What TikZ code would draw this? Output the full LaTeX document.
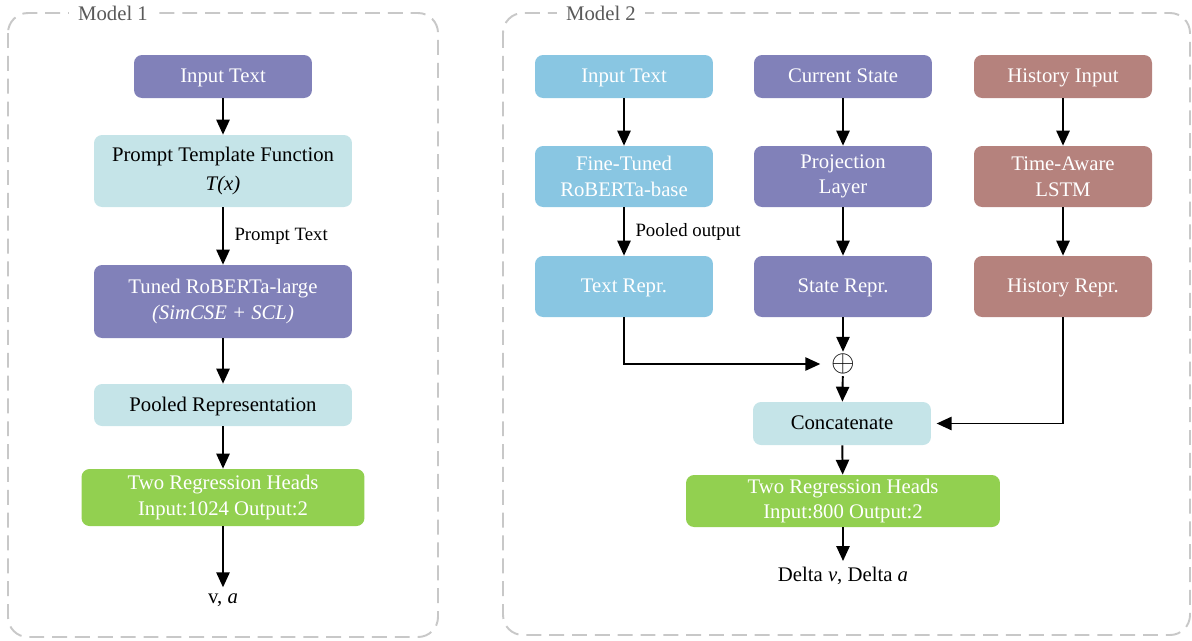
\documentclass[tikz,border=0pt]{standalone}
\usepackage{fontspec}
\setmainfont{Liberation Serif}
\usetikzlibrary{positioning, arrows.meta, calc}

\definecolor{boxpurple}{RGB}{129,129,185}
\definecolor{boxcyan}{RGB}{197,228,232}
\definecolor{boxblue}{RGB}{137,198,226}
\definecolor{boxbrown}{RGB}{181,130,125}
\definecolor{boxgreen}{RGB}{146,208,80}
\definecolor{framegray}{RGB}{200,200,200}
\definecolor{labelgray}{RGB}{90,90,90}

\begin{document}
\begin{tikzpicture}[
        x=0.02cm, y=-0.02cm,
        font=\fontsize{11.8}{14.5}\selectfont,
        flow/.style={-{Triangle[length=8.5pt, width=7.5pt]}, line width=1.1pt},
        frame/.style={draw=framegray, line width=1.1pt, dash pattern=on 8.5pt off 4.5pt, rounded corners=0.4cm},
        frame_label/.style={fill=white, text=labelgray, inner xsep=5pt, inner ysep=1pt},
        box/.style={rounded corners=0.16cm, align=center, inner sep=2pt, minimum width=3.56cm},
        one_line/.style={text height=1.9ex, text depth=0.3ex},
        purple_box/.style={box, fill=boxpurple, text=white},
        cyan_box/.style={box, fill=boxcyan, text=black},
        blue_box/.style={box, fill=boxblue, text=white},
        brown_box/.style={box, fill=boxbrown, text=white},
        green_box/.style={box, fill=boxgreen, text=white},
        edge_label/.style={font=\fontsize{10.7}{13}\selectfont, right, inner sep=6pt}
    ]
    \useasboundingbox (0,0) rectangle (1192,640);

    % ========================================================
    % 1. MODEL 1 (KIRI)
    % ========================================================
    \draw[frame] (8,13) rectangle (438,637);
    \node[frame_label] (lab1) at (113,13) {Model 1};

    \node[purple_box, one_line, minimum height=0.86cm] (in1) at (223,76.5) {Input Text};
    \node[cyan_box, minimum width=5.16cm, minimum height=1.44cm] (tmpl) at (223,171) {Prompt Template Function\\[1.5pt] \textit{T(x)}};
    \node[purple_box, minimum width=5.16cm, minimum height=1.46cm] (rob) at (223,301.5) {Tuned RoBERTa-large\\ \textit{(SimCSE + SCL)}};
    \node[cyan_box, one_line, minimum width=5.16cm, minimum height=0.84cm] (pool) at (223,405) {Pooled Representation};
    \node[green_box, minimum width=5.66cm, minimum height=1.14cm] (head1) at (223,497.5) {Two Regression Heads\\ Input:1024 Output:2};
    \node (out1) at (223,600) {v, \textit{a}};

    \draw[flow] (in1) -- (tmpl);
    \draw[flow] (tmpl) -- node[edge_label] {Prompt Text} (rob);
    \draw[flow] (rob) -- (pool);
    \draw[flow] (pool) -- (head1);
    \draw[flow] (head1) -- (out1);

    % ========================================================
    % 2. MODEL 2 (KANAN)
    % ========================================================
    \draw[frame] (503,13) rectangle (1190,635);
    \node[frame_label] (lab2) at (601,13) {Model 2};

    % -- A. Teks --
    \node[blue_box, one_line, minimum height=0.86cm] (txt) at (624,76.5) {Input Text};
    \node[blue_box, minimum height=1.22cm] (ft) at (624,176.5) {Fine-Tuned\\ RoBERTa-base};
    \node[blue_box, one_line, minimum height=1.22cm] (trep) at (624,286.5) {Text Repr.};

    % -- B. State --
    \node[purple_box, one_line, minimum height=0.86cm] (cur) at (843,76.5) {Current State};
    \node[purple_box, minimum height=1.22cm] (proj) at (843,176.5) {Projection\\ Layer};
    \node[purple_box, one_line, minimum height=1.22cm] (srep) at (843,286.5) {State Repr.};

    % -- C. History --
    \node[brown_box, one_line, minimum height=0.86cm] (hin) at (1063,76.5) {History Input};
    \node[brown_box, minimum height=1.22cm] (lstm) at (1063,176.5) {Time-Aware\\ LSTM};
    \node[brown_box, one_line, minimum height=1.22cm] (hrep) at (1063,286.5) {History Repr.};

    \draw[flow] (txt) -- (ft);
    \draw[flow] (ft) -- node[edge_label] {Pooled output} (trep);
    \draw[flow] (cur) -- (proj);
    \draw[flow] (proj) -- (srep);
    \draw[flow] (hin) -- (lstm);
    \draw[flow] (lstm) -- (hrep);

    % Penggabungan
    \node[inner sep=1pt, font=\fontsize{18}{18}\selectfont] (plus) at (843,364) {$\oplus$};
    \node[cyan_box, one_line, minimum height=0.86cm] (cat) at (842,423.5) {Concatenate};
    \node[green_box, minimum width=6.28cm, minimum height=1.04cm] (head2) at (843,501) {Two Regression Heads\\ Input:800 Output:2};
    \node (out2) at (843,576) {Delta \textit{v}, Delta \textit{a}};

    \draw[flow] (srep) -- (plus);
    \draw[flow, shorten >=5pt] (trep.south) |- (plus.west);
    \draw[flow] (plus) -- (cat);
    \draw[flow, shorten >=3pt] (hrep.south) |- (cat.east);
    \draw[flow] (cat) -- (head2);
    \draw[flow] (head2) -- (out2);

\end{tikzpicture}
\end{document}
